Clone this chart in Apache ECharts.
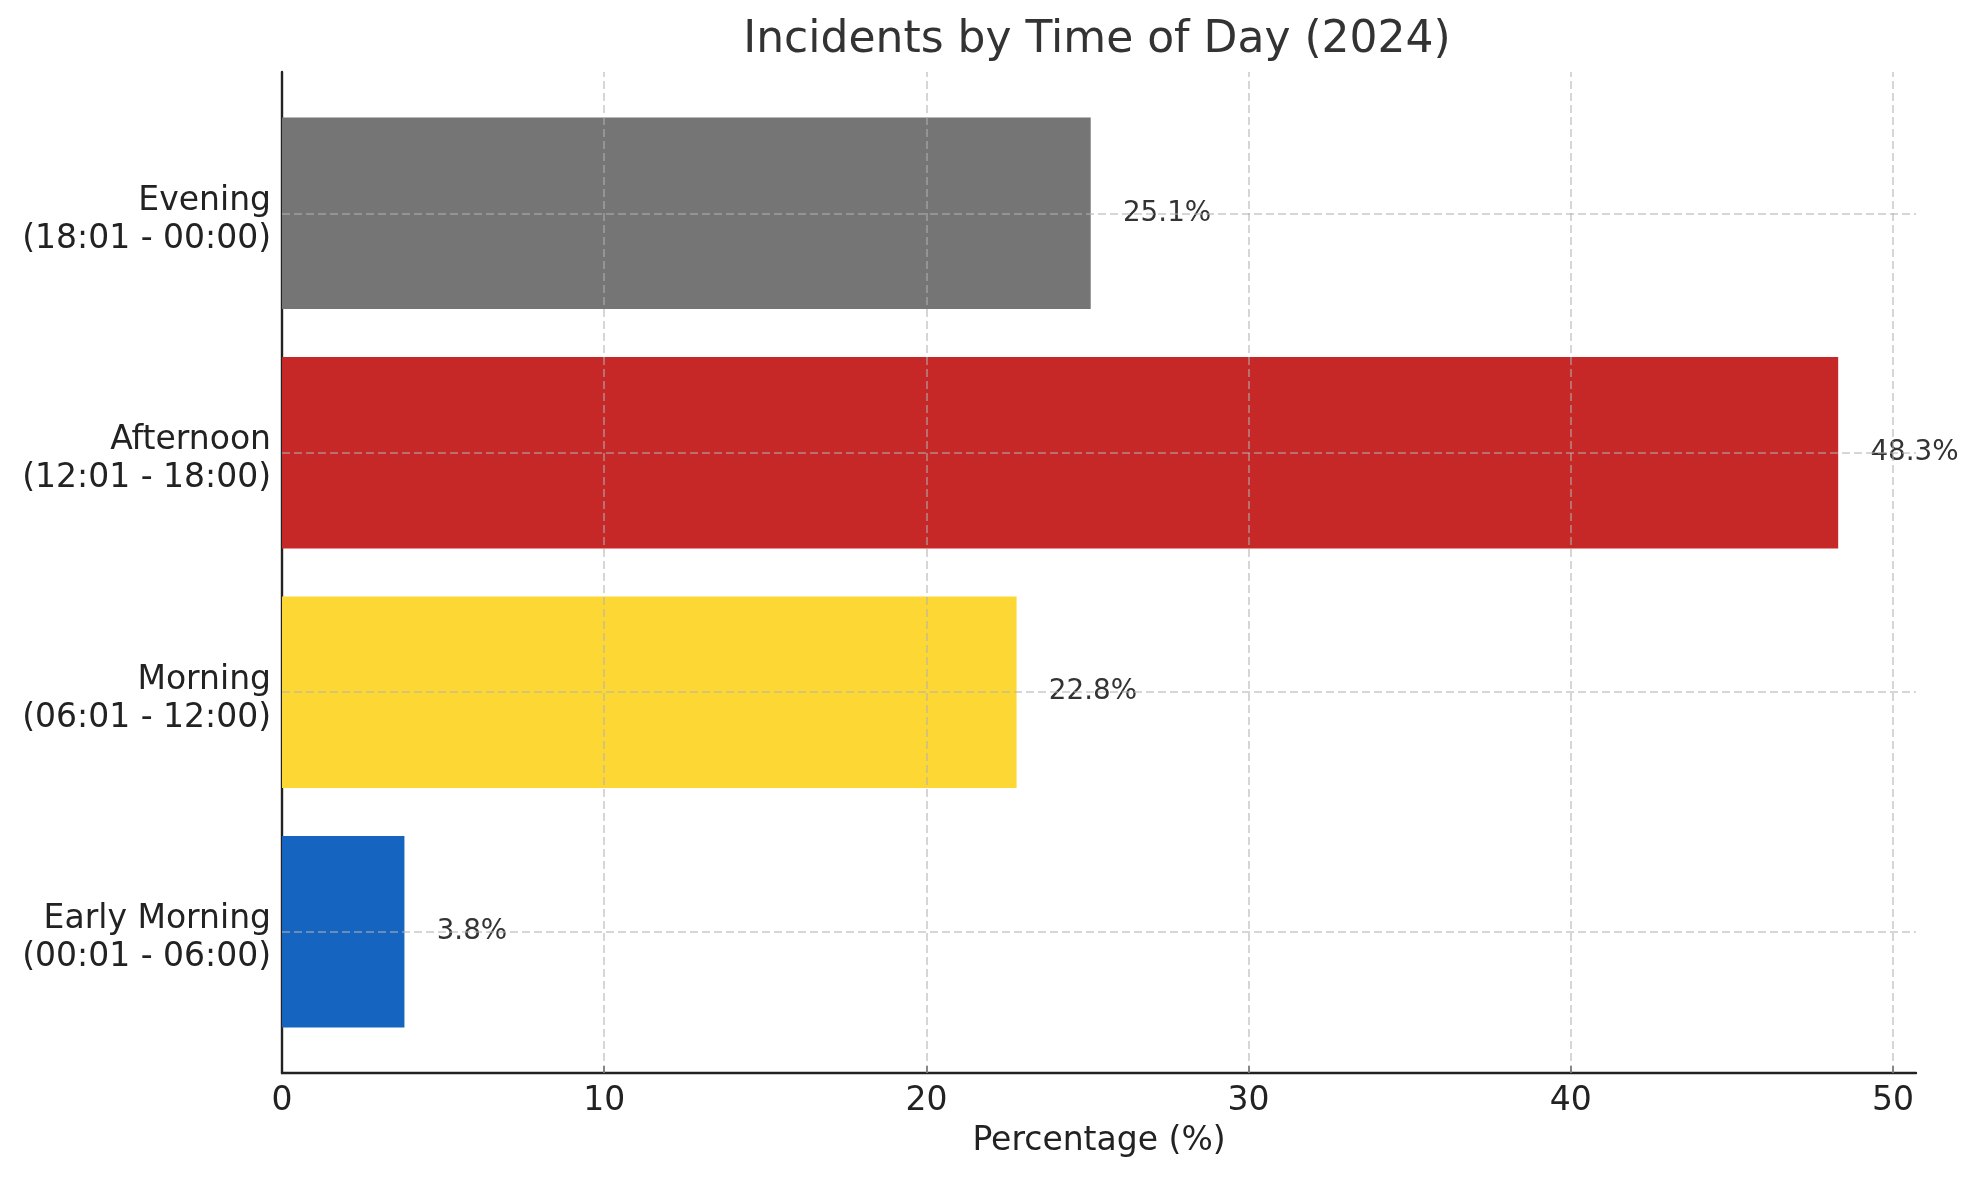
<!DOCTYPE html>
<html>
<head>
<meta charset="utf-8">
<script src="https://cdn.jsdelivr.net/npm/echarts@6/dist/echarts.min.js"></script>
<style>
html,body{margin:0;padding:0;background:#fff;}
#chart{width:1977px;height:1180px;}
</style>
</head>
<body>
<div id="chart"></div>
<script>
const categories = ['Early Morning\n(00:01 - 06:00)', 'Morning\n(06:01 - 12:00)', 'Afternoon\n(12:01 - 18:00)', 'Evening\n(18:01 - 00:00)'];
const values = [3.8, 22.8, 48.3, 25.1];
const barColors = ['#1565C0', '#FDD835', '#C62828', '#757575'];
const xTicks = [0, 10, 20, 30, 40, 50];
const yTicks = [0, 1, 2, 3];

const FONT = 'DejaVu Sans';
const gridLine = { color: 'rgba(176,176,176,0.7)', width: 1.5, type: [8, 4] };

const chart = echarts.init(document.getElementById('chart'));
chart.setOption({
  animation: false,
  backgroundColor: '#fff',
  textStyle: { fontFamily: FONT },
  title: {
    text: 'Incidents by Time of Day (2024)',
    left: 1092, top: 14, textAlign: 'center',
    textStyle: { fontFamily: FONT, fontSize: 44, fontWeight: 'normal', color: '#333' }
  },
  grid: { left: 282, right: 61, top: 72, bottom: 107, containLabel: false },
  xAxis: {
    type: 'value', min: 0, max: 50.715, interval: 10,
    axisLine: { show: true, onZero: false, lineStyle: { color: '#222', width: 2.4 } },
    axisTick: { show: true, inside: true, length: 7, customValues: xTicks, lineStyle: { color: '#222', width: 1.5 } },
    axisLabel: { customValues: xTicks, fontSize: 33, color: '#222', margin: 12, fontFamily: FONT },
    splitLine: { show: false },
    name: 'Percentage (%)', nameLocation: 'middle', nameGap: 52,
    nameTextStyle: { fontSize: 33, color: '#222', fontFamily: FONT }
  },
  yAxis: {
    type: 'value', min: -0.59, max: 3.59,
    axisLine: { show: true, onZero: false, lineStyle: { color: '#222', width: 2.4 } },
    axisTick: { show: true, inside: true, length: 7, customValues: yTicks, lineStyle: { color: '#222', width: 1.5 } },
    axisLabel: {
      customValues: yTicks.map(t => t - 0.028),
      formatter: v => categories[Math.round(v)] || '',
      fontSize: 33, lineHeight: 38, color: '#222', margin: 11, fontFamily: FONT, align: 'right'
    },
    splitLine: { show: false }
  },
  series: [
    {
      type: 'custom',
      z: 2,
      clip: false,
      encode: { x: 0, y: 1 },
      data: values.map((v, i) => [v, i]),
      renderItem: function (params, api) {
        const v = api.value(0), i = api.value(1);
        const p0 = api.coord([0, i]);
        const p1 = api.coord([v, i]);
        const h = api.size([0, 0.8])[1];
        const pl = api.coord([v + 1, i]);
        return {
          type: 'group',
          children: [
            { type: 'rect', shape: { x: p0[0], y: p0[1] - h / 2, width: p1[0] - p0[0], height: h }, style: { fill: barColors[i] } },
            { type: 'text', z2: 10, x: pl[0], y: pl[1], style: { text: v.toFixed(1) + '%', fill: '#333', fontSize: 27.8, fontFamily: FONT, align: 'left', verticalAlign: 'middle' } }
          ]
        };
      }
    },
    {
      type: 'scatter',
      z: 5,
      data: [],
      silent: true,
      markLine: {
        silent: true,
        symbol: ['none', 'none'],
        label: { show: false },
        lineStyle: gridLine,
        emphasis: { disabled: true },
        data: yTicks.map(t => ({ yAxis: t })).concat(xTicks.slice(1).map(t => ({ xAxis: t })))
      }
    }
  ]
});
</script>
</body>
</html>
